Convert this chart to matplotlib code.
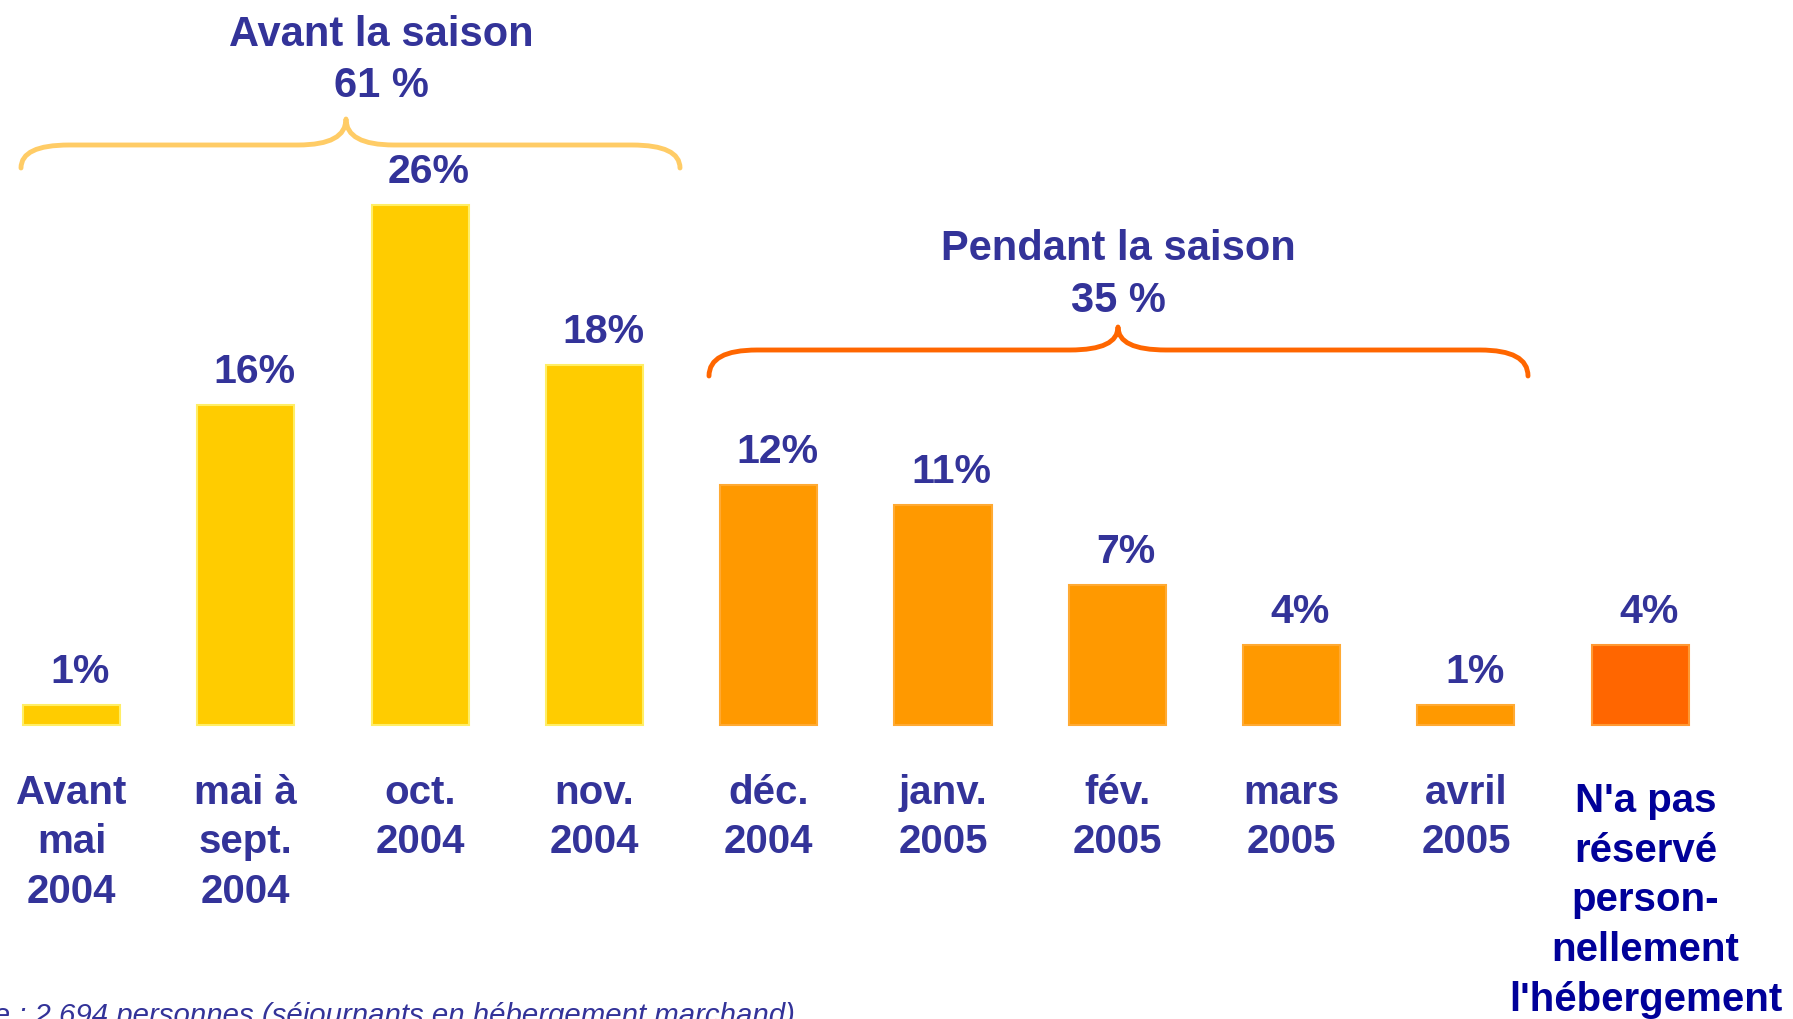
import matplotlib.pyplot as plt
from matplotlib.path import Path
from matplotlib.patches import PathPatch

plt.rcParams['font.family'] = ['Liberation Sans', 'DejaVu Sans']

# données
categories = ['Avant\nmai\n2004', 'mai à\nsept.\n2004', 'oct.\n2004', 'nov.\n2004',
              'déc.\n2004', 'janv.\n2005', 'fév.\n2005', 'mars\n2005', 'avril\n2005',
              "N'a pas\nréservé\nperson-\nnellement\nl'hébergement"]
valeurs = [1, 16, 26, 18, 12, 11, 7, 4, 1, 4]
etiquettes = ['1%', '16%', '26%', '18%', '12%', '11%', '7%', '4%', '1%', '4%']
groupes = ['avant'] * 4 + ['pendant'] * 5 + ['aucun']
titre_avant = 'Avant la saison\n61 %'
titre_pendant = 'Pendant la saison\n35 %'
note = 'Base : 2 694 personnes (séjournants en hébergement marchand)'

W, H = 1793, 1020
BLEU = '#333399'
couleurs = {'avant': '#FFCC00', 'pendant': '#FF9900', 'aucun': '#FF6600'}
bords = {'avant': '#FFEE66', 'pendant': '#FFAA33', 'aucun': '#FF9933'}

fig = plt.figure(figsize=(W / 100, H / 100), dpi=100)
ax = fig.add_axes([0, 0, 1, 1])
# 1 unité x = 174.3 px, 1 % = 20 px, base des barres à 726 px du haut
ax.set_xlim(-71.5 / 174.3, (W - 71.5) / 174.3)
ax.set_ylim(-(H - 726) / 20, 726 / 20)
ax.axis('off')

x = list(range(len(valeurs)))
ax.bar(x, valeurs, width=0.557,
       color=[couleurs[g] for g in groupes],
       edgecolor=[bords[g] for g in groupes], linewidth=1.5)

for xi, v, t in zip(x, valeurs, etiquettes):
    ax.text(xi + 0.05, v + 1.15, t, ha='center', va='baseline',
            fontsize=29.5, fontweight='bold', color=BLEU)

for xi, c in zip(x, categories):
    if xi == len(categories) - 1:
        ax.text(xi + 0.03, -2.8, c, ha='center', va='top', fontsize=29,
                fontweight='bold', color='#000099', linespacing=1.39)
    else:
        ax.text(xi, -2.4, c, ha='center', va='top', fontsize=29,
                fontweight='bold', color=BLEU, linespacing=1.38)


def px(xp, yp):
    return (xp / W, 1 - yp / H)


def accolade(x0, x1, xp, ye, yl, yp, r, couleur):
    verts = [px(x0, ye), px(x0, yl), px(x0 + r, yl),
             px(xp - r, yl), px(xp, yl), px(xp, yp),
             px(xp, yl), px(xp + r, yl),
             px(x1 - r, yl), px(x1, yl), px(x1, ye)]
    codes = [Path.MOVETO, Path.CURVE3, Path.CURVE3,
             Path.LINETO, Path.CURVE3, Path.CURVE3,
             Path.CURVE3, Path.CURVE3,
             Path.LINETO, Path.CURVE3, Path.CURVE3]
    fig.patches.append(PathPatch(Path(verts, codes), transform=fig.transFigure,
                                 fill=False, edgecolor=couleur, lw=3.5,
                                 capstyle='round', joinstyle='round'))


accolade(21, 680, 346, 169, 146, 120, 48, '#FFCC66')
accolade(709, 1528, 1118, 377, 351, 328, 48, '#FF6600')

l1, l2 = titre_avant.split('\n')
ax.text((381 - 71.5) / 174.3, 34.0, l1, ha='center', va='baseline',
        fontsize=30, fontweight='bold', color=BLEU)
ax.text((381 - 71.5) / 174.3, 31.45, l2, ha='center', va='baseline',
        fontsize=30, fontweight='bold', color=BLEU)
l1, l2 = titre_pendant.split('\n')
ax.text((1118 - 71.5) / 174.3, 23.3, l1, ha='center', va='baseline',
        fontsize=30, fontweight='bold', color=BLEU)
ax.text((1118 - 71.5) / 174.3, 20.7, l2, ha='center', va='baseline',
        fontsize=30, fontweight='bold', color=BLEU)

# note de bas de page, coupée au bord gauche comme dans l'original
ax.text((795 - 71.5) / 174.3, -14.9, note, ha='right', va='baseline',
        fontsize=21.2, style='italic', color=BLEU)

fig.savefig('out.png', dpi=100)
